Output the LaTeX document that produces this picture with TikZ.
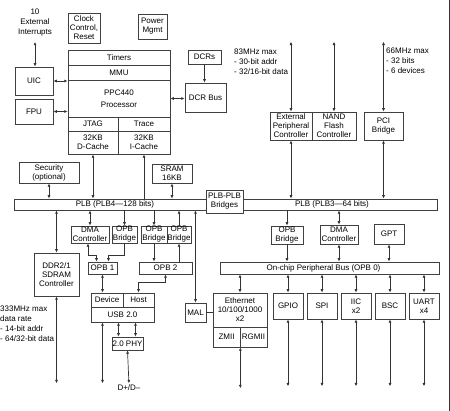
\documentclass[tikz,border=0pt]{standalone}
\usepackage{fontspec}
\setmainfont{Liberation Sans}
\usetikzlibrary{arrows.meta}
\def\blk(#1)(#2,#3)(#4,#5)#6{\node[box, minimum width={((#4)-(#2))*1pt}, minimum height={((#5)-(#3))*1pt}] (#1) at ({((#2)+(#4))/2},{((#3)+(#5))/2}) {#6};}
\tikzset{
  box/.style={draw=black!75, line width=0.7pt, inner sep=0pt, align=center, fill=white, font=\fontsize{8}{9}\selectfont},
  note/.style={inner sep=0pt, align=left, anchor=west, font=\fontsize{8}{10}\selectfont},
  wire/.style={draw=black!80, line width=0.7pt},
  >={Latex[length=3.4pt,width=3pt]}
}
\begin{document}
\begin{tikzpicture}[x=1pt,y=-1pt]
\useasboundingbox (0,0) rectangle (450,411);
%%%%% CPU %%%%%
\blk(timers)(68,50)(170,65){Timers}
\blk(mmu)(68,65)(170,80){MMU}
\blk(ppc)(68,80)(170,117){PPC440\\[3pt]Processor}
\blk(jtag)(68,117)(118,131){JTAG}
\blk(trace)(118,117)(170,131){Trace}
\blk(dcache)(68,131)(118,154){32KB\\D-Cache}
\blk(icache)(118,131)(170,154){32KB\\I-Cache}
\blk(clk)(68,13)(100,43){Clock\\Control,\\Reset}
\blk(pwr)(138,14)(167,39){Power\\Mgmt}
\blk(uic)(15,67)(53,95){UIC}
\blk(fpu)(15,99)(53,124){FPU}
\blk(dcrs)(188,50)(221,64){DCRs}
\blk(dcrbus)(185,83)(226,112){DCR Bus}
\node[note, anchor=center, align=center] (irq) at (35,23) {10\\External\\Interrupts};

%%%%% BUSES %%%%%
\blk(plbl)(14,199)(206,210){\hspace*{10pt}PLB (PLB4—128 bits)}
\blk(bridges)(206,190)(243,213){PLB-PLB\\Bridges}
\blk(plbr)(243,199)(437,210){PLB (PLB3—64 bits)\hspace*{16pt}}
\blk(opb0)(220,262)(439,274){On-chip Peripheral Bus (OPB 0)\hspace*{12pt}}

%%%%% LEFT SIDE %%%%%
\blk(sec)(19,162)(79,183){Security\\(optional)}
\blk(sram)(152,164)(192,183){SRAM\\16KB}
\blk(ddr)(34,253)(79,296){DDR2/1\\SDRAM\\Controller}
\blk(dmal)(71,226)(109,243){DMA\\Controller}
\blk(bro1)(112,226)(137,243){OPB\\Bridge}
\blk(bro2)(141,226)(167,243){OPB\\Bridge}
\blk(bro3)(167,226)(191,243){OPB\\Bridge}
\blk(opb1)(88,262)(117,274){OPB 1}
\blk(opb2)(139,262)(192,274){OPB 2}
\blk(dev)(91,293)(123,307){Device}
\blk(host)(123,293)(154,307){Host}
\blk(usb)(91,307)(154,322){USB 2.0}
\blk(phy)(112,337)(143,350){2.0 PHY}
\blk(mal)(185,303)(206,322){MAL}
\node[note, anchor=center] (dpm) at (129,388) {D+/D–};
\node[note] (ddrnote) at (0,323.5) {333MHz max\\data rate\\ - 14-bit addr\\ - 64/32-bit data};

%%%%% RIGHT SIDE %%%%%
\blk(epc)(270,112)(312,140){External\\Peripheral\\Controller}
\blk(nand)(312,112)(356,140){NAND\\Flash\\Controller}
\blk(pci)(364,112)(403,140){PCI\\Bridge}
\node[note] (ebcnote) at (234,61.5) {83MHz max\\ - 30-bit addr\\ - 32/16-bit data};
\node[note] (pcinote) at (386,61) {66MHz max\\ - 32 bits\\ - 6 devices};
\blk(bro0)(271,226)(303,244){OPB\\Bridge}
\blk(dmar)(320,225)(358,244){DMA\\Controller}
\blk(gpt)(374,224)(404,244){GPT}
\blk(eth)(213,293)(267,327){Ethernet\\10/100/1000\\x2}
\blk(zmii)(213,327)(240,347){ZMII}
\blk(rgmii)(240,327)(267,347){RGMII}
\foreach \nm/\x/\txt in {gpio/288/GPIO, spi/322/SPI, iic/356/{IIC\\x2}, bsc/390/BSC, uart/424/{UART\\x4}}{
  \blk(\nm)(\x-15,293)(\x+15,319){\txt}
  \draw[wire,<->] (\nm.north |- opb0.south) -- (\nm.north);
  \draw[wire,<->] (\nm.south) -- ++(0,67);
}

%%%%% CONNECTIONS %%%%%
\draw[wire,<->,shorten <=5pt] (irq.south) -- (irq.south |- uic.north);
\draw[wire,<->] (uic.east) -- (uic.east -| ppc.west);
\draw[wire,<->] (fpu.east) -- (fpu.east -| ppc.west);
\draw[wire,<->] (ppc.east) -- (ppc.east -| dcrbus.west);
\draw[wire,->] (dcrs.south) -- (dcrs.south |- dcrbus.north);

\draw[wire,<->] (dcache.south) -- (dcache.south |- plbl.north);
\draw[wire,<-] (icache.south) -- (icache.south |- plbl.north);
\draw[wire,<->] (sec.south) -- (sec.south |- plbl.north);
\draw[wire,<->] (sram.south) -- (sram.south |- plbl.north);
\draw[wire,<->] (ddr.north |- plbl.south) -- (ddr.north);
\draw[wire,<->] (ddr.south) -- ++(0,87);
\draw[wire,<->] (dmal.north |- plbl.south) -- (dmal.north);
\draw[wire,->] (bro1.north |- plbl.south) -- (bro1.north);
\draw[wire,->] (bro2.north |- plbl.south) -- (bro2.north);
\draw[wire,<-] (bro3.north |- plbl.south) -- (bro3.north);
\draw[wire,<->] (mal.north |- plbl.south) -- (mal.north);
\draw[wire,<->] ([xshift=-2pt]dmal.south) -- ++(0,12) -| ([xshift=-6pt]opb1.north);
\draw[wire,->] (bro1.south) -- ++(0,12) -| ([xshift=6pt]opb1.north);
\draw[wire,->] (bro2.south) -- (bro2.south |- opb2.north);
\draw[wire,<-] (bro3.south) -- (bro3.south |- opb2.north);
\draw[wire,<->] (opb1.south) -- (opb1.south |- dev.north);
\draw[wire,<->] (opb2.south) -- ++(0,8) -| (host.north);
\draw[wire,<->] (opb1.south |- usb.south) -- ++(0,61);
\foreach \dx in {-9,8}
  \draw[wire,<->] (phy.north) ++(\dx,0) coordinate (phyin) -- (phyin |- usb.south);
\draw[wire,<->,shorten >=1.5pt] (phy.south) -- (dpm.north);
\draw[wire] (mal.east) -- (mal.east -| eth.west);
\draw[wire,<->] (eth.north |- opb0.south) -- (eth.north);
\draw[wire,<->] (zmii.south east) -- ++(0,41);

\foreach \nm in {epc,nand,pci}
  \draw[wire,<->] (\nm.north) -- ++(0,-70);
\draw[wire,<->] (epc.south) -- (epc.south |- plbr.north);
\draw[wire,<->] (pci.south) -- (pci.south |- plbr.north);
\draw[wire,->] (bro0.north |- plbr.south) -- (bro0.north);
\draw[wire,->] (bro0.south) -- (bro0.south |- opb0.north);
\draw[wire,<->] (dmar.north |- plbr.south) -- (dmar.north);
\draw[wire,<->] (dmar.south) -- (dmar.south |- opb0.north);
\draw[wire,<->] (gpt.south) -- (gpt.south |- opb0.north);

\draw[wire] (449,0) -- (449,411);
\end{tikzpicture}
\end{document}
